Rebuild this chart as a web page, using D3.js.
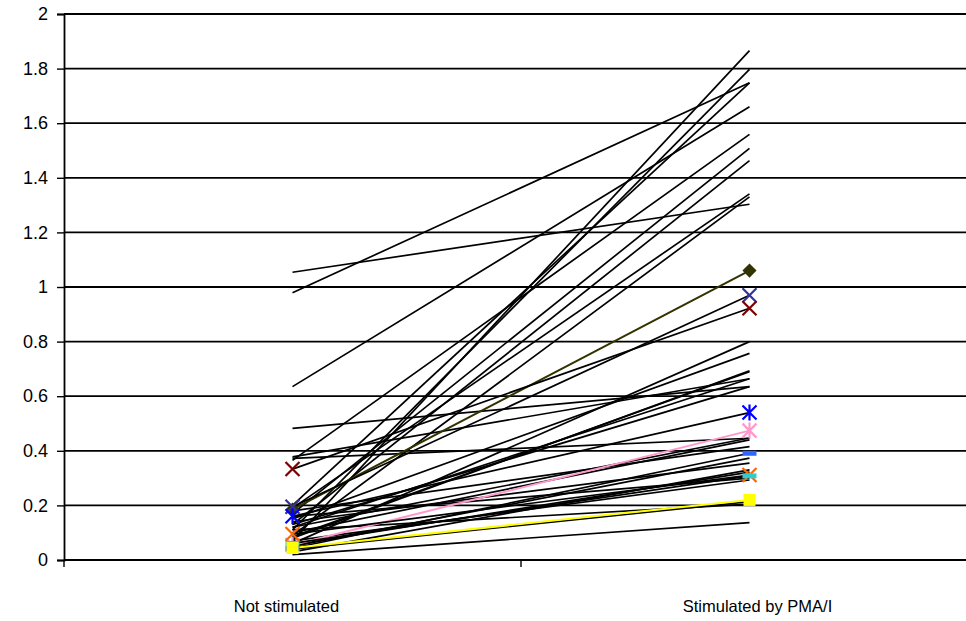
<!DOCTYPE html>
<html>
<head>
<meta charset="utf-8">
<script src="https://cdn.jsdelivr.net/npm/d3@7"></script>
<style>
  html, body { margin: 0; padding: 0; background: #ffffff; }
  svg { display: block; }
  text { font-family: "Liberation Sans", Arial, sans-serif; fill: #000; }
</style>
</head>
<body>
<svg id="chart" width="966" height="621"></svg>
<script>
// Paired measurements: value without stimulation, value after PMA/I.
const categories = ["Not stimulated", "Stimulated by PMA/I"];
const yTicks = [0, 0.2, 0.4, 0.6, 0.8, 1, 1.2, 1.4, 1.6, 1.8, 2];

// Subjects drawn as plain black lines
const plainBefore = [1.054, 0.979, 0.635, 0.482, 0.372, 0.378, 0.365, 0.07, 0.11, 0.20,
                     0.17, 0.13, 0.19, 0.09, 0.06, 0.15, 0.08, 0.12, 0.10, 0.05,
                     0.14, 0.03, 0.16, 0.07, 0.04, 0.11, 0.02, 0.18, 0.12, 0.055,
                     0.085, 0.13];
const plainAfter  = [1.303, 1.748, 1.660, 0.635, 0.446, 0.664, 1.559, 1.866, 1.797, 1.748,
                     1.508, 1.463, 1.341, 1.330, 0.800, 0.757, 0.693, 0.664, 0.440, 0.373,
                     0.355, 0.330, 0.300, 0.293, 0.214, 0.205, 0.137, 0.415, 0.447, 0.322,
                     0.690, 0.635];

// Subjects drawn with their own marker and colour
const markedNames  = ["s1", "s2", "s3", "s4", "s5", "s6", "s7", "s8", "s9"];
const markedBefore = [0.185, 0.195, 0.333, 0.160, 0.055, 0.043, 0.095, 0.061, 0.044];
const markedAfter  = [1.060, 0.970, 0.922, 0.540, 0.474, 0.391, 0.311, 0.308, 0.220];
const markedShape  = ["diamond", "x", "x", "asterisk", "asterisk", "dash", "x", "dash", "square"];
const markedColor  = ["#333300", "#333399", "#800000", "#0000ff", "#ff99cc", "#3366ff", "#ff6600", "#33cccc", "#ffff00"];
const markedLine   = ["#333300", "#000000", "#000000", "#000000", "#ff99cc", "#000000", "#000000", "#000000", "#ffff00"];

const svg = d3.select("#chart");
const margin = { left: 64, top: 14, right: -12, bottom: 61 };
const W = 966, H = 621;

const x = d3.scaleBand().domain(categories).range([margin.left, W - margin.right]);
const xc = c => x(c) + x.bandwidth() / 2;
const y = d3.scaleLinear().domain([0, 2]).range([H - margin.bottom, margin.top]);

// Horizontal gridlines
svg.append("g")
  .selectAll("line")
  .data(yTicks.slice(1))
  .join("line")
  .attr("x1", x.range()[0]).attr("x2", x.range()[1])
  .attr("y1", d => y(d)).attr("y2", d => y(d))
  .attr("stroke", "#000").attr("stroke-width", 1.8);

// Y axis
const yAxis = svg.append("g")
  .attr("transform", `translate(${margin.left},0)`)
  .call(d3.axisLeft(y).tickValues(yTicks).tickSize(7).tickPadding(9)
        .tickFormat(d => d3.format("~g")(d)));
yAxis.select(".domain").attr("stroke", "#000").attr("stroke-width", 1.8);
yAxis.selectAll(".tick line").attr("stroke", "#000").attr("stroke-width", 1.4);
yAxis.selectAll(".tick text").attr("font-size", 18).attr("font-family", "Liberation Sans, Arial, sans-serif");

// X axis: ticks on category boundaries
const xg = svg.append("g").attr("transform", `translate(0,${y(0)})`);
xg.append("line")
  .attr("x1", x.range()[0]).attr("x2", x.range()[1])
  .attr("stroke", "#000").attr("stroke-width", 1.8);
const bounds = categories.map(c => x(c)).concat([x.range()[1]]);
xg.selectAll("line.tk").data(bounds).join("line").attr("class", "tk")
  .attr("x1", d => d).attr("x2", d => d).attr("y1", 0).attr("y2", 7)
  .attr("stroke", "#000").attr("stroke-width", 1.4);
xg.selectAll("text").data(categories).join("text")
  .attr("x", (d, i) => xc(d) + (i === 0 ? -6 : 8)).attr("y", 52)
  .attr("text-anchor", "middle").attr("font-size", 16.5)
  .text(d => d);

// Lines
const xa = xc(categories[0]), xb = xc(categories[1]);
const plotG = svg.append("g");
plotG.selectAll("line.plain")
  .data(d3.range(plainBefore.length))
  .join("line").attr("class", "plain")
  .attr("x1", xa).attr("x2", xb)
  .attr("y1", i => y(plainBefore[i])).attr("y2", i => y(plainAfter[i]))
  .attr("stroke", "#000").attr("stroke-width", 1.7);

plotG.selectAll("line.marked")
  .data(d3.range(markedNames.length))
  .join("line").attr("class", "marked")
  .attr("x1", xa).attr("x2", xb)
  .attr("y1", i => y(markedBefore[i])).attr("y2", i => y(markedAfter[i]))
  .attr("stroke", i => markedLine[i]).attr("stroke-width", i => markedLine[i] === "#000000" ? 1.7 : 2);

// Marker drawing
function drawMarker(g, shape, color, cx, cy) {
  const s = 7;
  if (shape === "diamond") {
    g.append("path").attr("d", d3.symbol(d3.symbolSquare, 100)())
      .attr("transform", `translate(${cx},${cy}) rotate(45)`).attr("fill", color);
  } else if (shape === "square") {
    g.append("rect").attr("x", cx - 6).attr("y", cy - 6).attr("width", 12).attr("height", 12)
      .attr("fill", color);
  } else if (shape === "dash") {
    g.append("rect").attr("x", cx - 7).attr("y", cy - 2.5).attr("width", 14).attr("height", 5)
      .attr("fill", color);
  } else {
    const p = d3.path();
    p.moveTo(cx - s, cy - s); p.lineTo(cx + s, cy + s);
    p.moveTo(cx - s, cy + s); p.lineTo(cx + s, cy - s);
    if (shape === "asterisk") { p.moveTo(cx, cy - s - 1); p.lineTo(cx, cy + s + 1); }
    g.append("path").attr("d", p.toString()).attr("stroke", color)
      .attr("stroke-width", 2.2).attr("fill", "none");
  }
}
const mg = svg.append("g");
markedNames.forEach((n, i) => {
  drawMarker(mg, markedShape[i], markedColor[i], xa, y(markedBefore[i]));
  drawMarker(mg, markedShape[i], markedColor[i], xb, y(markedAfter[i]));
});
</script>
</body>
</html>
